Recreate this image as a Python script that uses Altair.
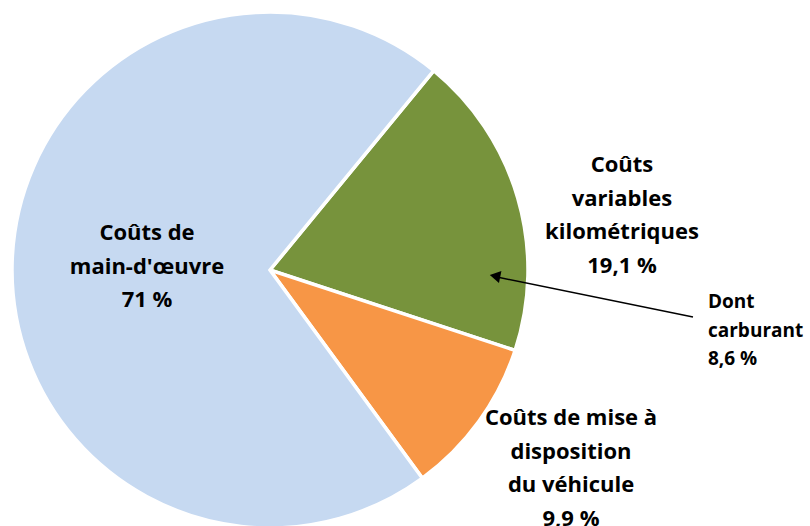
import math
import altair as alt
import pandas as pd

# Data
categories = ["Coûts variables kilométriques", "Coûts de mise à disposition du véhicule", "Coûts de main-d'œuvre"]
shares = [19.1, 9.9, 71.0]
colors = ["#77933C", "#F79646", "#C6D9F1"]

label_main = "Coûts de\nmain-d'œuvre\n71 %"
label_var = "Coûts\nvariables\nkilométriques\n19,1 %"
label_mise = "Coûts de mise à\ndisposition\ndu véhicule\n9,9 %"
label_fuel = "Dont\ncarburant\n8,6 %"

df = pd.DataFrame({"cat": categories, "val": shares, "ord": list(range(len(categories)))})

W, H = 810, 526
CX, CY, R = 270, 270, 258
start = math.radians(39.4)

FONT = "Open Sans"

pie = alt.Chart(df).mark_arc(stroke="white", strokeWidth=3.5, radius=R).encode(
    theta=alt.Theta("val:Q", stack=True, scale=alt.Scale(range=[start, start + 2 * math.pi])),
    color=alt.Color("cat:N", scale=alt.Scale(domain=categories, range=colors), legend=None),
    order=alt.Order("ord:Q"),
    x=alt.value(CX),
    y=alt.value(CY),
)

def label(text, x, y, size=22, align="center", lh=33.5):
    return alt.Chart(pd.DataFrame({"t": [text]})).mark_text(
        font=FONT, fontWeight="bold", fontSize=size, align=align, baseline="middle",
        lineBreak="\n", lineHeight=lh, color="black",
    ).encode(text="t:N", x=alt.value(x), y=alt.value(y))

t1 = label(label_main, 147, 233)
t2 = label(label_var, 622, 165)
t3 = label(label_mise, 571, 418)
t4 = label(label_fuel, 708, 302, size=19, align="left", lh=28.5)

arrow_df = pd.DataFrame({"a": [0]})
line = alt.Chart(arrow_df).mark_rule(color="black", strokeWidth=1.5).encode(
    x=alt.value(693), y=alt.value(317), x2=alt.value(497), y2=alt.value(277)
)
head = alt.Chart(arrow_df).mark_point(shape="triangle-left", filled=True, color="black", size=150, angle=11.5, opacity=1).encode(
    x=alt.value(495), y=alt.value(276)
)

chart = alt.layer(pie, t1, t2, t3, t4, line, head).properties(
    width=W, height=H, padding=0, autosize=alt.AutoSizeParams(type="none")
).configure_view(stroke=None)

chart.save("out.html", embed_options={"renderer": "svg", "actions": False})
